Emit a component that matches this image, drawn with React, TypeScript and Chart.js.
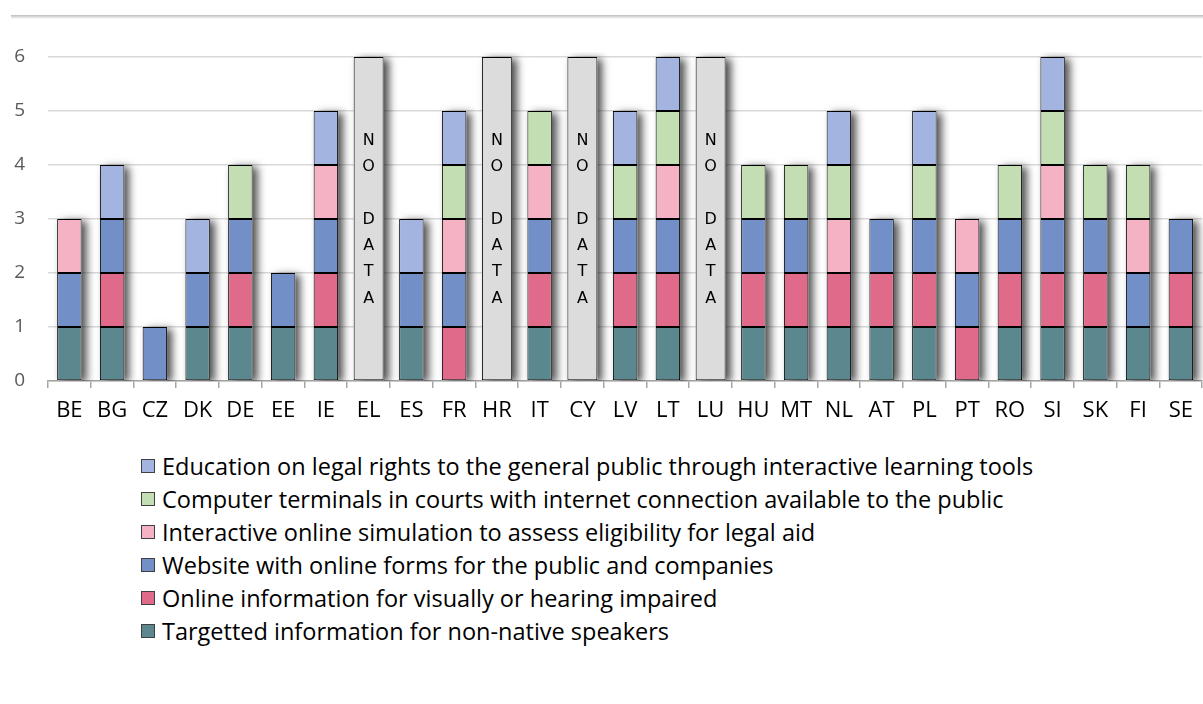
import React, { useEffect, useRef } from "react";
import { Chart, registerables } from "chart.js";

Chart.register(...registerables);

const countries = ["BE","BG","CZ","DK","DE","EE","IE","EL","ES","FR","HR","IT","CY","LV","LT","LU","HU","MT","NL","AT","PL","PT","RO","SI","SK","FI","SE"];

const n = null;
// 1 = feature available (stacked as one unit), null = not available
const targetted =   [1,1,n,1,1,1,1,n,1,n,n,1,n,1,1,n,1,1,1,1,1,n,1,1,1,1,1];
const impaired =    [n,1,n,n,1,n,1,n,n,1,n,1,n,1,1,n,1,1,1,1,1,1,1,1,1,n,1];
const website =     [1,1,1,1,1,1,1,n,1,1,n,1,n,1,1,n,1,1,n,1,1,1,1,1,1,1,1];
const simulation =  [1,n,n,n,n,n,1,n,n,1,n,1,n,n,1,n,n,n,1,n,n,1,n,1,n,1,n];
const terminals =   [n,n,n,n,1,n,n,n,n,1,n,1,n,1,1,n,1,1,1,n,1,n,1,1,1,1,n];
const education =   [n,1,n,1,n,n,1,n,1,1,n,n,n,1,1,n,n,n,1,n,1,n,n,1,n,n,n];
const noData =      [n,n,n,n,n,n,n,6,n,n,6,n,6,n,n,6,n,n,n,n,n,n,n,n,n,n,n];

const yTicks = [0, 1, 2, 3, 4, 5, 6];

const seriesNames = [
  "Targetted information for non-native speakers",
  "Online information for visually or hearing impaired",
  "Website with online forms for the public and companies",
  "Interactive online simulation to assess eligibility for legal aid",
  "Computer terminals in courts with internet connection available to the public",
  "Education on legal rights to the general public through interactive learning tools",
];
const seriesColors = ["#5B888E", "#DF6A89", "#728FC8", "#F5B2C4", "#C3DEB3", "#A2B4DF"];
const seriesValues = [targetted, impaired, website, simulation, terminals, education];

const FONT = "'Open Sans', 'Noto Sans', sans-serif";

const shadowPlugin = {
  id: "barShadow",
  beforeDatasetsDraw(chart: any) {
    const ctx = chart.ctx;
    const metas = chart.getSortedVisibleDatasetMetas();
    const ca = chart.chartArea;
    for (let i = 0; i < countries.length; i++) {
      let top = Infinity, bottom = -Infinity, left = Infinity, right = -Infinity;
      for (const meta of metas) {
        const v = chart.data.datasets[meta.index].data[i];
        if (v == null) continue;
        const el = meta.data[i];
        if (!el) continue;
        const p = el.getProps(["x", "y", "base", "width"], true);
        top = Math.min(top, p.y, p.base);
        bottom = Math.max(bottom, p.y, p.base);
        left = Math.min(left, p.x - p.width / 2);
        right = Math.max(right, p.x + p.width / 2);
      }
      if (!isFinite(top)) continue;
      ctx.save();
      ctx.beginPath();
      ctx.rect(ca.left, ca.top - 5, ca.right - ca.left + 10, ca.bottom - ca.top + 5);
      ctx.clip();
      ctx.shadowColor = "rgba(0,0,0,0.7)";
      ctx.shadowBlur = 8;
      ctx.shadowOffsetX = 5;
      ctx.shadowOffsetY = 2;
      ctx.fillStyle = "#ffffff";
      ctx.fillRect(left, top, right - left, bottom - top);
      ctx.restore();
    }
  },
};

const noDataTextPlugin = {
  id: "noDataText",
  afterDatasetsDraw(chart: any) {
    const ctx = chart.ctx;
    const metas = chart.getSortedVisibleDatasetMetas();
    const meta = metas.find((m: any) => chart.data.datasets[m.index].label === "NO DATA");
    if (!meta) return;
    const lines = ["N", "O", "", "D", "A", "T", "A"];
    const lh = 26.3;
    ctx.save();
    ctx.fillStyle = "#000";
    ctx.font = "16px 'DejaVu Sans', sans-serif";
    ctx.textAlign = "center";
    ctx.textBaseline = "middle";
    meta.data.forEach((el: any, i: number) => {
      if (noData[i] == null) return;
      const p = el.getProps(["x", "y", "base"], true);
      const cy = (p.y + p.base) / 2;
      lines.forEach((t, k) => {
        if (t) ctx.fillText(t, p.x, cy + (k - 3) * lh + 1);
      });
    });
    ctx.restore();
  },
};

function ChartCanvas() {
  const ref = useRef<HTMLCanvasElement | null>(null);
  useEffect(() => {
    if (!ref.current) return;
    const datasets: any[] = seriesValues.map((vals, k) => ({
      label: seriesNames[k],
      data: vals,
      backgroundColor: seriesColors[k],
      borderColor: "#000",
      borderWidth: 1,
      borderSkipped: false,
      categoryPercentage: 1,
      barPercentage: 0.572,
    }));
    datasets.push({
      label: "NO DATA",
      data: noData,
      backgroundColor: "#DCDCDC",
      borderColor: "#000",
      borderWidth: 1,
      borderSkipped: false,
      categoryPercentage: 1,
      barPercentage: 0.7,
    });
    const chart = new Chart(ref.current, {
      type: "bar",
      data: { labels: countries, datasets },
      plugins: [shadowPlugin, noDataTextPlugin],
      options: {
        animation: false,
        responsive: false,
        devicePixelRatio: 1,
        layout: { padding: { top: 57, left: 0, right: 0, bottom: 0 } },
        plugins: { legend: { display: false }, tooltip: { enabled: false } },
        scales: {
          x: {
            stacked: true,
            grid: {
              offset: true,
              drawOnChartArea: false,
              drawTicks: true,
              tickLength: 7,
              color: "#A6A6A6",
              lineWidth: 1.5,
            },
            border: { display: true, color: "#A6A6A6", width: 1.5 },
            ticks: {
              color: "#000",
              font: { family: FONT, size: 22, weight: "500" },
              padding: 10,
              maxRotation: 0,
              autoSkip: false,
            },
            afterFit: (s: any) => {
              s.height = 49;
            },
          },
          y: {
            stacked: true,
            min: 0,
            max: 6,
            afterBuildTicks: (s: any) => {
              s.ticks = yTicks.map((v) => ({ value: v }));
            },
            ticks: {
              color: "#595959",
              font: { family: FONT, size: 19 },
              padding: 23,
            },
            grid: { color: "#D9D9D9", lineWidth: 1.5, drawTicks: false },
            border: { display: false },
            afterFit: (s: any) => {
              s.width = 48;
            },
          },
        },
      },
    });
    return () => chart.destroy();
  }, []);
  return (
    <canvas
      ref={ref}
      width={1203}
      height={430}
      style={{ position: "absolute", left: 0, top: 0, width: 1203, height: 430 }}
    />
  );
}

export default function App() {
  const legendOrder = [5, 4, 3, 2, 1, 0];
  return (
    <div
      style={{
        position: "fixed",
        left: 0,
        top: 0,
        width: 1203,
        height: 704,
        background: "#ffffff",
        overflow: "hidden",
      }}
    >
      <div
        style={{
          position: "absolute",
          left: 11,
          top: 15,
          width: 1192,
          height: 4,
          background: "linear-gradient(to bottom, #bdbdbd, #eeeeee 75%, #ffffff)",
        }}
      />
      <ChartCanvas />
      <div style={{ position: "absolute", left: 141, top: 449.5 }}>
        {legendOrder.map((k) => (
          <div
            key={k}
            style={{ display: "flex", alignItems: "center", height: 33, whiteSpace: "nowrap" }}
          >
            <span
              style={{
                display: "inline-block",
                width: 14,
                height: 14,
                boxSizing: "border-box",
                border: "1px solid #404040",
                background: seriesColors[k],
                marginRight: 7,
              }}
            />
            <span
              style={{
                fontFamily: FONT,
                fontSize: 23.5,
                fontWeight: 500,
                color: "#000",
                lineHeight: "33px",
              }}
            >
              {seriesNames[k]}
            </span>
          </div>
        ))}
      </div>
    </div>
  );
}
